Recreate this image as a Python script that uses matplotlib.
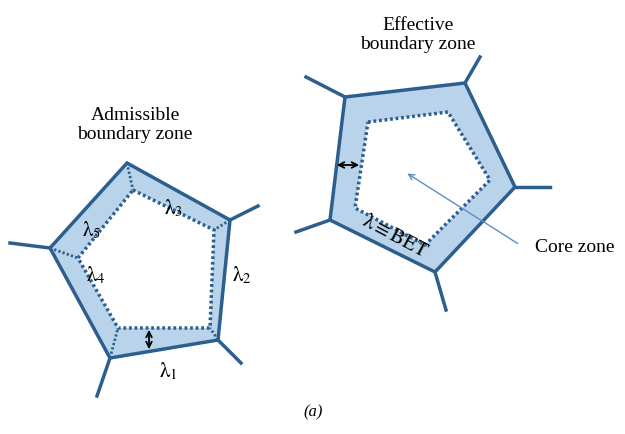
import matplotlib.pyplot as plt
from matplotlib.patches import Polygon

plt.rcParams['mathtext.fontset'] = 'stix'

# outer / inner pentagons in pixel coords (y down)
left_outer = [(127, 163), (230, 220), (218, 340), (110, 358), (50, 248)]
left_inner = [(133, 190), (214, 230), (210, 328), (118, 328), (78, 258)]
left_spokes = [((50, 248), (10, 243)), ((110, 358), (97, 396)),
               ((218, 340), (241, 363)), ((230, 220), (258, 206))]

right_outer = [(345, 97), (465, 83), (515, 187), (435, 272), (330, 220)]
right_inner = [(368, 122), (448, 112), (490, 180), (425, 245), (355, 208)]
right_spokes = [((345, 97), (306, 77)), ((465, 83), (480, 57)),
                ((515, 187), (550, 187)), ((435, 272), (446, 310)),
                ((330, 220), (296, 232))]

edge = '#2c5f8e'
fill = '#b9d3ea'

fig = plt.figure(figsize=(6.25, 4.34), dpi=100)
ax = fig.add_axes([0, 0, 1, 1])
ax.set_xlim(0, 625)
ax.set_ylim(434, 0)
ax.axis('off')

for outer, inner, spokes in [(left_outer, left_inner, left_spokes),
                             (right_outer, right_inner, right_spokes)]:
    ax.add_patch(Polygon(outer, closed=True, fc=fill, ec=edge, lw=2.5))
    ax.add_patch(Polygon(inner, closed=True, fc='white', ec=edge, lw=2.5, ls=(0, (0.8, 0.8))))
    for a, b in spokes:
        ax.plot([a[0], b[0]], [a[1], b[1]], color=edge, lw=2.5)

# corner lines of admissible zone
for o, i in zip(left_outer, left_inner):
    ax.plot([o[0], i[0]], [o[1], i[1]], color=edge, lw=2, ls=(0, (0.8, 0.8)))

# arrows
ax.annotate('', xy=(149, 327), xytext=(149, 352),
            arrowprops=dict(arrowstyle='<->', color='black', lw=1.3))
ax.annotate('', xy=(334, 165), xytext=(362, 165),
            arrowprops=dict(arrowstyle='<->', color='black', lw=1.3))
ax.annotate('', xy=(405, 172), xytext=(520, 245),
            arrowprops=dict(arrowstyle='->', color='#5b8fc4', lw=1))

font = dict(family='Liberation Serif', fontsize=14)
ax.text(135, 125, 'Admissible\nboundary zone', ha='center', va='center', **font)
ax.text(418, 35, 'Effective\nboundary zone', ha='center', va='center', **font)
ax.text(575, 248, 'Core zone', ha='center', va='center', **font)
lam = dict(ha='center', va='center', fontsize=15)
ax.text(168, 371, r'$\mathrm{\lambda}_1$', **lam)
ax.text(242, 275, r'$\mathrm{\lambda}_2$', **lam)
ax.text(173, 208, r'$\mathrm{\lambda}_3$', **lam)
ax.text(96, 275, r'$\mathrm{\lambda}_4$', **lam)
ax.text(92, 230, r'$\mathrm{\lambda}_5$', **lam)
ax.text(395, 236, r'$\mathrm{\lambda}\equiv\mathrm{BET}$', ha='center', va='center',
        rotation=-28, fontsize=15)
ax.text(313, 412, '(a)', ha='center', va='center', style='italic',
        family='Liberation Serif', fontsize=12)

fig.savefig('out.png', dpi=100)
